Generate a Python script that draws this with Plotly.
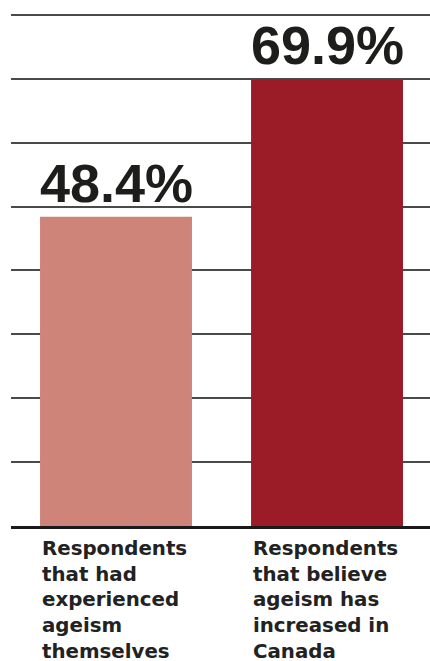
import plotly.graph_objects as go

categories = ["experienced", "increased"]
values = [48.4, 69.9]
value_labels = ["48.4%", "69.9%"]
category_labels = [
    "Respondents<br>that had<br>experienced<br>ageism<br>themselves",
    "Respondents<br>that believe<br>ageism has<br>increased in<br>Canada",
]
bar_colors = ["#CE8478", "#9B1B27"]
y_ticks = [0, 10, 20, 30, 40, 50, 60, 70, 80]

fig = go.Figure(
    go.Bar(
        x=categories,
        y=values,
        marker=dict(color=bar_colors, line=dict(width=0)),
        hoverinfo="skip",
    )
)

annotations = []
for c, v, t in zip(categories, values, value_labels):
    annotations.append(dict(
        x=c, y=v, xref="x", yref="y", text=t, showarrow=False,
        xanchor="center", yanchor="bottom", yshift=2,
        font=dict(family="Liberation Sans", size=54, color="#1d1d1b", weight=700),
    ))
for c, t in zip(categories, category_labels):
    annotations.append(dict(
        x=c, y=0, xref="x", yref="y", text=t, showarrow=False,
        xanchor="left", yanchor="top", align="left", xshift=-76, yshift=-9,
        font=dict(family="DejaVu Sans", size=19.8, color="#222222", weight=700),
    ))

fig.update_layout(
    width=430, height=661, autosize=False,
    margin=dict(l=11, r=0, t=13, b=135, pad=0),
    paper_bgcolor="white", plot_bgcolor="white",
    bargap=0.28, showlegend=False,
    annotations=annotations,
    xaxis=dict(range=[-0.4976, 1.488], showticklabels=False, ticks="", showgrid=False,
               zeroline=False, showline=True, linecolor="#1a1a1a", linewidth=3,
               fixedrange=True),
    yaxis=dict(range=[0, 80.3], tickvals=y_ticks, showticklabels=False, ticks="",
               showgrid=True, gridcolor="#4a4a4a", gridwidth=1.5,
               zeroline=False, showline=False, fixedrange=True),
)

fig.write_html(
    "out.html",
    config={"displayModeBar": False},
    post_script="document.body.style.margin='0';document.documentElement.style.overflow='hidden';",
)
